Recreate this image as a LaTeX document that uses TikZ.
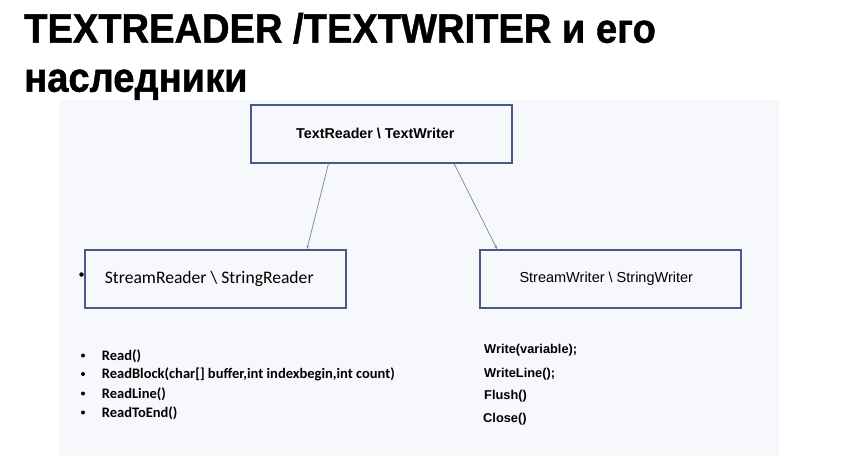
\documentclass[tikz,border=0pt]{standalone}
\usepackage{fontspec}
\setmainfont{Liberation Sans}
\newfontfamily\carlito{Carlito}
\newfontfamily\titlefont{Liberation Sans Bold}[FakeBold=1.1]
\usetikzlibrary{arrows.meta}
\definecolor{panelbg}{RGB}{247,248,251}
\definecolor{boxline}{RGB}{72,88,138}
\definecolor{arrline}{RGB}{118,130,168}
\tikzset{
  classbox/.style={draw=boxline, line width=1.5pt, minimum width=261pt, minimum height=58pt, inner sep=0pt, anchor=north west},
  inherit/.style={draw=arrline, line width=0.7pt, -{Stealth[length=3.5pt,width=2.5pt]}},
  titletext/.style={anchor=base west, inner sep=0pt, font=\titlefont\fontsize{41.2}{44}\selectfont},
  leftitem/.style={anchor=base west, inner sep=0pt, font=\carlito\bfseries\fontsize{14.5}{16}\selectfont},
  rightitem/.style={anchor=base west, inner sep=0pt, font=\bfseries\fontsize{12.8}{14}\selectfont},
  dot/.style={circle, fill=black, inner sep=0pt, minimum size=4pt}
}
\begin{document}
\begin{tikzpicture}[x=1pt,y=-1pt]
\useasboundingbox (0,0) rectangle (843,460);
\fill[white] (0,0) rectangle (843,460);
\fill[panelbg] (59,100) rectangle (779,456);

\node[titletext] (t1) at (24,42.7) {\scalebox{0.925}[1]{TEXTREADER /TEXTWRITER и его}};
\node[titletext] (t2) at (24,91.7) {\scalebox{0.925}[1]{наследники}};

\node[classbox] (top) at (250,104) {\hspace*{-12pt}\bfseries\fontsize{14.3}{16}\selectfont TextReader \textbackslash\ TextWriter};
\node[classbox] (left) at (84,249) {\hspace*{-12pt}\carlito\fontsize{17.6}{19}\selectfont StreamReader \textbackslash\ StringReader};
\node[classbox] (right) at (479,249) {\hspace*{-8pt}\fontsize{14.5}{16}\selectfont StreamWriter \textbackslash\ StringWriter};

\node[dot, minimum size=4.5pt] (b0) at (81.5,274.5) {};

\draw[inherit] ([xshift=78.5pt]top.south west) -- ([xshift=223pt]left.north west);
\draw[inherit] ([xshift=204pt]top.south west) -- ([xshift=18pt]right.north west);

\node[dot] (b1) at (83,355.5) {};
\node[dot] (b2) at (83,374) {};
\node[dot] (b3) at (83,393.5) {};
\node[dot] (b4) at (83,412.5) {};
\node[leftitem] (r1) at (101.7,360) {Read()};
\node[leftitem] (r2) at (101.7,378.5) {ReadBlock(char[] buffer,int indexbegin,int count)};
\node[leftitem] (r3) at (101.7,398) {ReadLine()};
\node[leftitem] (r4) at (101.7,417) {ReadToEnd()};

\node[rightitem] (w1) at (484,353.3) {Write(variable);};
\node[rightitem] (w2) at (484,377.7) {WriteLine();};
\node[rightitem] (w3) at (484,399.3) {Flush()};
\node[rightitem] (w4) at (483,422.3) {Close()};
\end{tikzpicture}
\end{document}
